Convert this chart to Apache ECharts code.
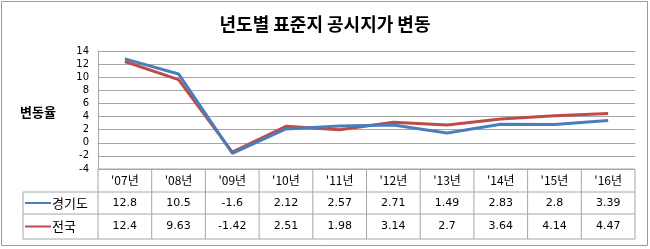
<!DOCTYPE html>
<html><head><meta charset="utf-8">
<script src="https://cdn.jsdelivr.net/npm/echarts@6/dist/echarts.min.js"></script>
<style>html,body{margin:0;padding:0;background:#fff}#c{width:650px;height:249px}</style>
</head><body><div id="c"></div>
<script>
const categories = ["'07년","'08년","'09년","'10년","'11년","'12년","'13년","'14년","'15년","'16년"];
const gyeonggi = [12.8, 10.5, -1.6, 2.12, 2.57, 2.71, 1.49, 2.83, 2.8, 3.39];
const national = [12.4, 9.63, -1.42, 2.51, 1.98, 3.14, 2.7, 3.64, 4.14, 4.47];
const seriesNames = ["경기도", "전국"];
const yMin = -4, yMax = 14, yStep = 2;

const BLUE = '#4a7ebb', RED = '#be4b48', GRID = '#a6a6a6';
const KR = '"Noto Sans CJK KR", sans-serif';
const NUM = '"DejaVu Sans", Verdana, sans-serif';

const chart = echarts.init(document.getElementById('c'));
chart.setOption({
  animation: false,
  backgroundColor: '#fff',
  title: { text: '년도별 표준지 공시지가 변동', left: 'center', top: 10,
    textStyle: { fontFamily: KR, fontSize: 18, fontWeight: 'bold', color: '#000' } },
  grid: { left: 98, right: 15, top: 51, bottom: 80 },
  xAxis: { type: 'category', data: categories, boundaryGap: true,
    axisLine: { lineStyle: { color: GRID } }, axisTick: { show: false }, axisLabel: { show: false } },
  yAxis: { type: 'value', min: yMin, max: yMax, interval: yStep,
    axisLine: { show: true, lineStyle: { color: GRID } }, axisTick: { show: false },
    axisLabel: { fontFamily: NUM, fontSize: 10, color: '#000', margin: 9 },
    splitLine: { lineStyle: { color: GRID } } },
  series: [
    { name: seriesNames[0], type: 'line', data: gyeonggi, symbol: 'none', lineStyle: { color: BLUE, width: 3 }, z: 3 },
    { name: seriesNames[1], type: 'line', data: national, symbol: 'none', lineStyle: { color: RED, width: 3 }, z: 2 }
  ]
});

function buildTable() {
  const c0 = chart.convertToPixel({ xAxisIndex: 0 }, 0);
  const c1 = chart.convertToPixel({ xAxisIndex: 0 }, 1);
  const bw = c1 - c0;
  const yTop = chart.convertToPixel({ yAxisIndex: 0 }, yMin);
  const rows = [yTop, yTop + 23, yTop + 45, yTop + 70];
  const leftX = 23;
  const xs = categories.map((_, i) => chart.convertToPixel({ xAxisIndex: 0 }, i));
  const rightX = xs[xs.length - 1] + bw / 2;
  const els = [];
  const line = (x1, y1, x2, y2) => els.push({ type: 'line', shape: { x1, y1, x2, y2 }, style: { stroke: GRID, lineWidth: 1 }, silent: true });
  line(c0 - bw / 2, rows[0], rightX, rows[0]);
  line(leftX, rows[1], rightX, rows[1]);
  line(leftX, rows[2], rightX, rows[2]);
  line(leftX, rows[3], rightX, rows[3]);
  line(leftX, rows[1], leftX, rows[3]);
  for (let i = 0; i <= categories.length; i++) {
    const x = c0 - bw / 2 + i * bw;
    line(x, rows[0], x, rows[3]);
  }
  const txt = (x, y, text, font, size, color, align) => els.push({ type: 'text', x, y,
    style: { text, fontFamily: font, fontSize: size, fill: color || '#000', align: align || 'center', verticalAlign: 'middle' }, silent: true });
  categories.forEach((cat, i) => txt(xs[i], (rows[0] + rows[1]) / 2, cat, KR, 12));
  const data = [gyeonggi, national];
  const colors = [BLUE, RED];
  data.forEach((arr, r) => {
    const ym = (rows[r + 1] + rows[r + 2]) / 2;
    arr.forEach((v, i) => txt(xs[i], ym, String(v), NUM, 11));
    els.push({ type: 'line', shape: { x1: 25, y1: ym, x2: 51, y2: ym }, style: { stroke: colors[r], lineWidth: 2 }, silent: true });
    txt(52, ym, seriesNames[r], KR, 13, '#000', 'left');
  });
  els.push({ type: 'text', x: 38, y: 112, style: { text: '변동율', fontFamily: KR, fontSize: 13, fontWeight: 'bold', fill: '#000', align: 'center', verticalAlign: 'middle' }, silent: true });
  els.push({ type: 'rect', shape: { x: 1.5, y: 1.5, width: 646, height: 244 }, style: { fill: 'none', stroke: '#9a9a9a', lineWidth: 1 }, silent: true });
  chart.setOption({ graphic: els });
}
buildTable();
</script></body></html>
